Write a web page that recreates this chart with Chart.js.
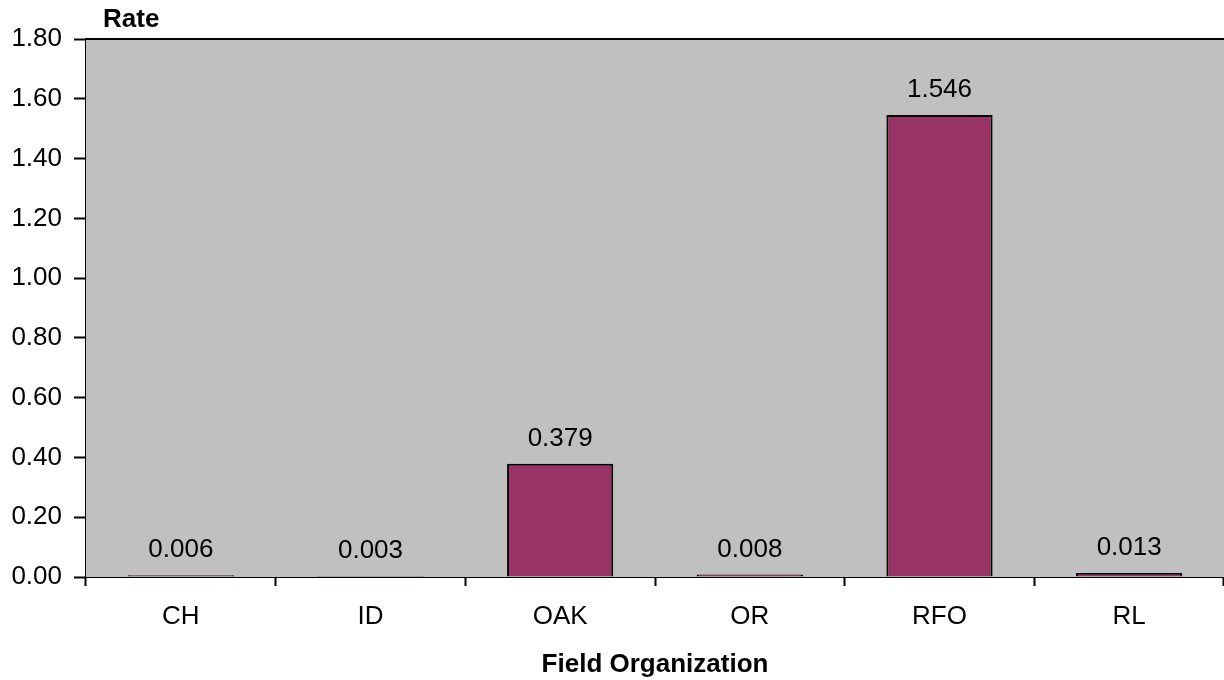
<!DOCTYPE html>
<html>
<head>
<meta charset="utf-8">
<script src="https://cdn.jsdelivr.net/npm/chart.js@4/dist/chart.umd.min.js"></script>
<style>
  html, body { margin: 0; padding: 0; background: #fff; }
  #wrap { width: 1224px; height: 680px; }
</style>
</head>
<body>
<div id="wrap"><canvas id="rateChart" width="1224" height="680"></canvas></div>
<script>
// rate per field organization
const orgs = ['CH', 'ID', 'OAK', 'OR', 'RFO', 'RL'];
const rates = [0.006, 0.003, 0.379, 0.008, 1.546, 0.013];
const yMax = 1.8;
const yStep = 0.2;

const FONT = 'Arial, "Liberation Sans", sans-serif';

// gray plot background + top frame line, drawn under the bars
const plotFrame = {
  id: 'plotFrame',
  beforeDatasetsDraw(chart) {
    const { ctx, chartArea: a } = chart;
    ctx.save();
    ctx.fillStyle = '#c0c0c0';
    ctx.fillRect(a.left, a.top, a.right - a.left, a.bottom - a.top);
    ctx.strokeStyle = '#000';
    ctx.lineWidth = 2;
    ctx.beginPath();
    ctx.moveTo(a.left, a.top);
    ctx.lineTo(a.right, a.top);
    ctx.stroke();
    ctx.restore();
  },
  afterDraw(chart) {
    const { ctx, chartArea: a } = chart;
    ctx.save();
    ctx.fillStyle = '#000';
    ctx.font = 'bold 26px ' + FONT;
    ctx.textAlign = 'left';
    ctx.textBaseline = 'middle';
    ctx.fillText('Rate', a.left + 17, a.top - 19);
    ctx.restore();
  }
};

// value above each bar
const barValues = {
  id: 'barValues',
  afterDatasetsDraw(chart) {
    const { ctx } = chart;
    const meta = chart.getDatasetMeta(0);
    ctx.save();
    ctx.fillStyle = '#000';
    ctx.font = '26px ' + FONT;
    ctx.textAlign = 'center';
    ctx.textBaseline = 'alphabetic';
    meta.data.forEach(function(bar, i){
      ctx.fillText(rates[i].toFixed(3), bar.x, bar.y - 18);
    });
    ctx.restore();
  }
};

new Chart(document.getElementById('rateChart'), {
  type: 'bar',
  data: {
    labels: orgs,
    datasets: [{
      data: rates,
      backgroundColor: '#993366',
      borderColor: '#000',
      borderWidth: 2,
      categoryPercentage: 1,
      barPercentage: 0.56
    }]
  },
  options: {
    responsive: false,
    animation: false,
    layout: { padding: { top: 39, right: 0, bottom: 0, left: 0 } },
    plugins: { legend: { display: false }, tooltip: { enabled: false }, title: { display: false } },
    scales: {
      x: {
        afterFit(scale) { scale.height = 103; },
        grid: { drawOnChartArea: false, offset: true, tickLength: 9, tickColor: '#000', tickWidth: 2 },
        border: { display: true, color: '#000', width: 2 },
        ticks: { color: '#000', font: { family: FONT, size: 26 }, padding: 15 },
        title: {
          display: true,
          text: 'Field Organization',
          color: '#000',
          font: { family: FONT, size: 26, weight: 'bold' },
          padding: { top: 0, bottom: 0 }
        }
      },
      y: {
        min: 0,
        max: yMax,
        afterFit(scale) { scale.width = 86; },
        grid: { drawOnChartArea: false, tickLength: 12, tickColor: '#000', tickWidth: 2 },
        border: { display: true, color: '#000', width: 2 },
        ticks: {
          stepSize: yStep,
          color: '#000',
          font: { family: FONT, size: 26 },
          padding: 12,
          callback: function(v){ return Number(v).toFixed(2); }
        }
      }
    }
  },
  plugins: [plotFrame, barValues]
});
</script>
</body>
</html>
